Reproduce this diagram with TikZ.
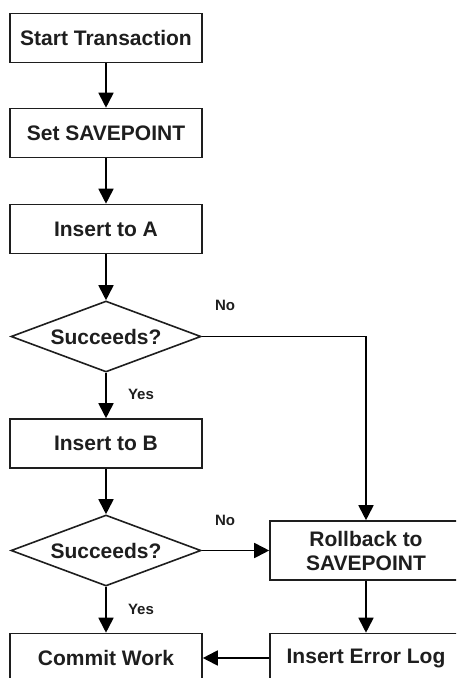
\documentclass[tikz,border=0pt]{standalone}
\usepackage{fontspec}
\setmainfont{Liberation Sans}
\usetikzlibrary{arrows.meta,shapes.geometric}

\definecolor{ink}{HTML}{1E1E1E}

\tikzset{
  every node/.style={font=\bfseries\fontsize{21}{24}\selectfont, text=ink},
  procbox/.style={draw=ink, line width=1.6pt, fill=white, rectangle,
    minimum width=192pt, minimum height=49pt, inner sep=0pt, align=center},
  decision/.style={draw=ink, line width=1.6pt, fill=white, diamond,
    minimum width=190pt, minimum height=71pt, inner sep=0pt},
  branch/.style={font=\bfseries\fontsize{15}{17}\selectfont},
  flow/.style={draw=black, line width=1.8pt,
    -{Triangle[length=15pt, width=15pt]}},
}

\begin{document}
\begin{tikzpicture}[x=1pt, y=-1pt]
  \useasboundingbox (0,0) rectangle (456,678);
  \clip (0,0) rectangle (456,678);

  % main column
  \node[procbox] (start)  at (106,38)    {Start Transaction};
  \node[procbox] (save)   at (106,133)   {Set SAVEPOINT};
  \node[procbox] (insA)   at (106,229)   {Insert to A};
  \node[decision] (dec1)  at (106,336.5) {\makebox[0pt]{Succeeds?}};
  \node[procbox] (insB)   at (106,443.5) {Insert to B};
  \node[decision] (dec2)  at (106,550.5) {\makebox[0pt]{Succeeds?}};
  \node[procbox] (commit) at (106,658)   {Commit Work};

  % error column
  \node[procbox, minimum height=59pt] (rollback) at (366,550.5)
    {Rollback to\\SAVEPOINT};
  \node[procbox] (errlog) at (366,658) {Insert Error Log};

  % connectors
  \draw[flow] (start) -- (save);
  \draw[flow] (save) -- (insA);
  \draw[flow] (insA) -- (dec1);
  \draw[flow] (dec1) -- (insB);
  \draw[flow] (insB) -- (dec2);
  \draw[flow] (dec2) -- (commit);
  \draw[flow] (dec1.east) -| (rollback.north);
  \draw[flow] (dec2.east) -- (rollback.west);
  \draw[flow] (rollback) -- (errlog);
  \draw[flow] (errlog.west) -- (commit.east);

  % branch labels
  \node[branch] (no1)  at (225,305) {No};
  \node[branch] (yes1) at (141,394) {Yes};
  \node[branch] (no2)  at (225,520) {No};
  \node[branch] (yes2) at (141,609) {Yes};
\end{tikzpicture}
\end{document}
